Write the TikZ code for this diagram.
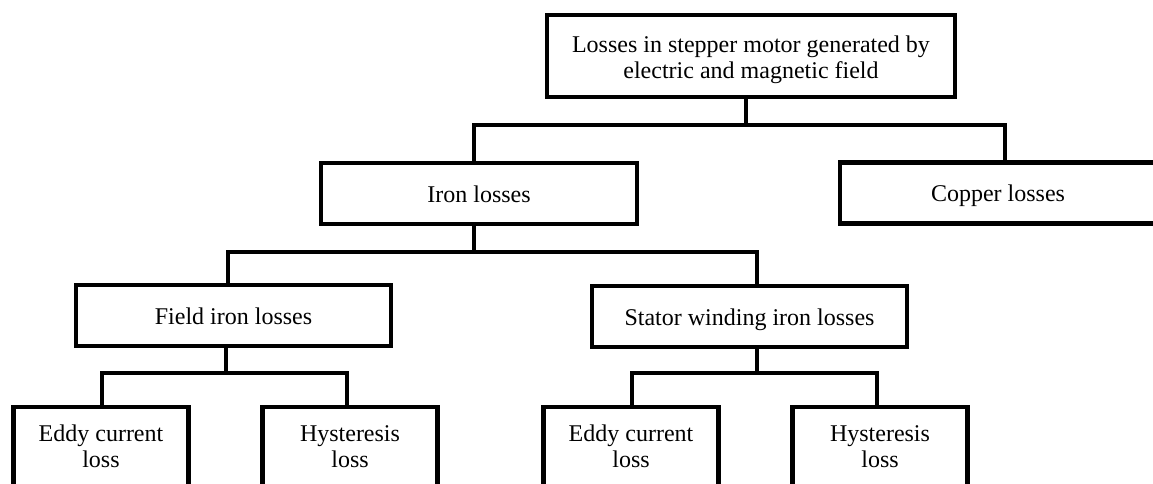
\documentclass[tikz,border=0pt]{standalone}
\usepackage{fontspec}
\setmainfont{Liberation Serif}
\begin{document}
\begin{tikzpicture}[x=1pt,y=-1pt,
  box/.style={draw=black,line width=4.5pt,fill=white,inner sep=0pt,
    font=\fontsize{24}{26}\selectfont,text height=17pt,text depth=0pt},
  wide/.style={minimum width=316pt,minimum height=61pt},
  leaf/.style={minimum width=175pt,minimum height=90pt,text height=30pt,text depth=0pt},
  conn/.style={draw=black,line width=4.2pt}]
\useasboundingbox (0,0) rectangle (1153,484);
\clip (0,0) rectangle (1153,484);
\fill[white] (0,0) rectangle (1153,484);
% nodes
\node[box,minimum width=408pt,minimum height=82pt,text height=46pt,text depth=0pt] (top) at (751,56)
  {\begin{tabular}[b]{@{}c@{}}Losses in stepper motor generated by\\electric and magnetic field\end{tabular}};
\node[box,wide] (iron) at (479,193.5) {Iron losses};
\node[box,wide] (copper) at (998,193) {Copper losses};
\node[box,wide,minimum width=315pt] (field) at (233.5,315.5) {Field iron losses};
\node[box,wide,minimum width=315pt] (stator) at (749.5,316.5) {Stator winding iron losses};
\node[box,leaf] (eddyA) at (101,452) {\begin{tabular}[b]{@{}c@{}}Eddy current\\loss\end{tabular}};
\node[box,leaf] (hystA) at (350,452) {\begin{tabular}[b]{@{}c@{}}Hysteresis\\loss\end{tabular}};
\node[box,leaf] (eddyB) at (631,452) {\begin{tabular}[b]{@{}c@{}}Eddy current\\loss\end{tabular}};
\node[box,leaf] (hystB) at (880,452) {\begin{tabular}[b]{@{}c@{}}Hysteresis\\loss\end{tabular}};
% junctions
\coordinate (j1) at (746,125);
\coordinate (j2) at (474,252);
\coordinate (j3) at (226,373);
\coordinate (j4) at (757,373);
% connectors
\draw[conn] (top.south -| j1) -- (j1) -| (iron.north -| j2);
\draw[conn] (j1) -| (copper.north -| 1005,0);
\draw[conn] (iron.south -| j2) -- (j2) -| (field.north -| 228,0);
\draw[conn] (j2) -| (stator.north -| j4);
\draw[conn] (field.south -| j3) -- (j3) -| (eddyA.north -| 102,0);
\draw[conn] (j3) -| (hystA.north -| 347,0);
\draw[conn] (stator.south -| j4) -- (j4) -| (eddyB.north -| 632,0);
\draw[conn] (j4) -| (hystB.north -| 877,0);
\end{tikzpicture}
\end{document}
